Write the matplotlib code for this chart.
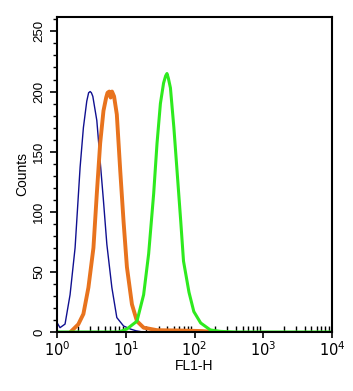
import matplotlib
matplotlib.use("Agg")
import matplotlib.pyplot as plt
import numpy as np

plt.rcParams['font.family'] = ['Liberation Sans', 'DejaVu Sans']

# Data (log10 of FL1-H, counts)
blue_log = [0.0, 0.044, 0.117, 0.19, 0.263, 0.336, 0.384, 0.433, 0.46, 0.482, 0.50, 0.521, 0.579,
            0.628, 0.676, 0.725, 0.798, 0.87, 0.968, 1.066, 1.15, 1.25]
blue_cnt = [7.8, 3.6, 6.6, 31, 70, 137, 170, 192, 199, 200, 199, 196, 176,
            142, 109, 73, 37, 12, 5, 2.5, 1, 0]

orange_log = [0.214, 0.31, 0.384, 0.457, 0.53, 0.579, 0.628, 0.676, 0.715, 0.735, 0.76, 0.78,
              0.80, 0.83, 0.87, 0.92, 0.968, 1.017, 1.09, 1.163, 1.26, 1.455, 1.8, 2.1, 2.3]
orange_cnt = [1, 6.4, 15, 37, 70, 115, 157, 184, 195, 199, 200, 195,
              200, 196, 181, 134, 92, 54, 23, 9, 3.6, 1.5, 1.2, 0.8, 0]

green_log = [0.0, 0.9, 1.017, 1.163, 1.26, 1.333, 1.406, 1.455, 1.504, 1.55, 1.58, 1.6, 1.62,
             1.65, 1.7, 1.75, 1.8, 1.84, 1.92, 1.99, 2.09, 2.23, 2.38, 2.6, 4.0]
green_cnt = [0, 0, 2.5, 9, 31, 65, 115, 157, 190, 207, 213, 215, 211,
             203, 170, 131, 92, 59, 33, 17, 7.5, 1.7, 0.5, 0, 0]

xticks = [1, 10, 100, 1000, 10000]
xticklabels = [r'$10^0$', r'$10^1$', r'$10^2$', r'$10^3$', r'$10^4$']
yticks = [0, 50, 100, 150, 200, 250]

fig = plt.figure(figsize=(3.53, 3.91), dpi=100)
ax = fig.add_axes([57/353, 59/391, 275/353, 315/391])

ax.plot(10**np.array(blue_log), blue_cnt, color='#101090', lw=1.0)
ax.plot(10**np.array(orange_log), orange_cnt, color='#E8731E', lw=2.8)
ax.plot(10**np.array(green_log), green_cnt, color='#2EEA1E', lw=2.2)

ax.set_xscale('log')
ax.set_xlim(1, 10000)
ax.set_ylim(0, 262)
ax.set_xticks(xticks)
ax.set_xticklabels(xticklabels, fontsize=10.5)
ax.set_yticks(yticks)
ax.set_yticks(np.arange(0, 261, 10), minor=True)
ax.set_yticklabels([str(v) for v in yticks], rotation=90, va='center', fontsize=9.5)
ax.tick_params(axis='y', which='major', direction='out', length=5, width=1.2)
ax.tick_params(axis='y', which='minor', direction='out', length=3, width=1.0)
ax.tick_params(axis='x', which='major', direction='out', length=4, width=1.2, pad=2)
ax.tick_params(axis='x', which='minor', direction='in', length=4, width=1.0)
ax.set_xlabel('FL1-H', fontsize=10, labelpad=0)
ax.set_ylabel('Counts', fontsize=10, labelpad=3)
for s in ax.spines.values():
    s.set_linewidth(1.5)

fig.savefig('out.png', dpi=100)
